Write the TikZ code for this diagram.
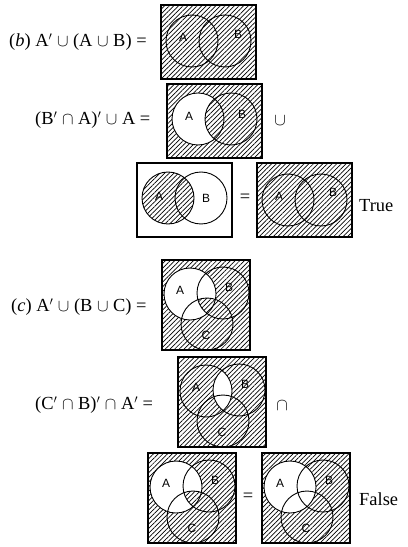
\documentclass[tikz,border=0pt]{standalone}
\usepackage{fontspec}
\setmainfont{Liberation Serif}
\setsansfont{Liberation Sans}
\usetikzlibrary{patterns.meta}

\begin{document}
\begin{tikzpicture}[x=1bp, y=-1bp,
		hatch/.style={pattern={Lines[angle=45,distance=3.3pt,line width=0.7pt]}},
		frame/.style={draw, line width=1.3pt},
		ring/.style={draw, line width=0.9pt},
		setlbl/.style={font=\sffamily\fontsize{12}{14}\selectfont},
		expr/.style={font=\fontsize{18.5}{22}\selectfont, anchor=west, inner sep=0pt},
		sign/.style={font=\fontsize{18.5}{22}\selectfont, inner sep=0pt}]

		% 0. Page size
		\useasboundingbox (0,0) rectangle (407,547);

		% 1. Part (b), first line: everything shaded
		\node[expr] (eqb) at (9,42) {(\textit{b}) A$'$ $\cup$ (A $\cup$ B) =};
		\begin{scope}[shift={(161,5)}]
			\coordinate (b1A) at (31,36);
			\coordinate (b1B) at (64,36);
			\fill[hatch] (0,0) rectangle (95,74);
			\draw[ring] (b1A) circle[radius=26] (b1B) circle[radius=26];
			\draw[frame] (0,0) rectangle (95,74);
			\node[setlbl] (b1a) at (22,32) {A};
			\node[setlbl] (b1b) at (77,29) {B};
		\end{scope}

		% 2. Part (b), second line: A - B left blank
		\node[expr] (eqbb) at (35,120) {(B$'$ $\cap$ A)$'$ $\cup$ A =};
		\begin{scope}[shift={(167,84)}]
			\coordinate (b2A) at (31,35);
			\coordinate (b2B) at (64,35);
			\fill[hatch] (0,0) rectangle (95,74);
			\fill[white] (b2A) circle[radius=26];
			\begin{scope}
				\clip (b2A) circle[radius=26];
				\fill[hatch] (b2B) circle[radius=26];
			\end{scope}
			\draw[ring] (b2A) circle[radius=26] (b2B) circle[radius=26];
			\draw[frame] (0,0) rectangle (95,74);
			\node[setlbl] (b2a) at (22,32) {A};
			\node[setlbl] (b2b) at (75,30) {B};
		\end{scope}
		\node[sign] (cupb) at (280,121) {$\cup$};

		% 3. Part (b), third line: A shaded = everything shaded
		\begin{scope}[shift={(137,163)}]
			\coordinate (b3A) at (31,35);
			\coordinate (b3B) at (64,35);
			\fill[hatch] (b3A) circle[radius=26];
			\draw[ring] (b3A) circle[radius=26] (b3B) circle[radius=26];
			\draw[frame] (0,0) rectangle (95,74);
			\node[setlbl] (b3a) at (22,33) {A};
			\node[setlbl] (b3b) at (69,35) {B};
		\end{scope}
		\node[sign] (eqsb) at (245,198) {=};
		\begin{scope}[shift={(257,163)}]
			\coordinate (b4A) at (31,37);
			\coordinate (b4B) at (64,37);
			\fill[hatch] (0,0) rectangle (95,74);
			\draw[ring] (b4A) circle[radius=26] (b4B) circle[radius=26];
			\draw[frame] (0,0) rectangle (95,74);
			\node[setlbl] (b4a) at (22,33) {A};
			\node[setlbl] (b4b) at (76,29) {B};
		\end{scope}
		\node[expr] (tru) at (359,206) {True};

		% 4. Part (c), first line: A, apart from the middle, left blank
		\node[expr] (eqc) at (11,307) {(\textit{c}) A$'$ $\cup$ (B $\cup$ C) =};
		\begin{scope}[shift={(162,260)}]
			\coordinate (c1A) at (28,34);
			\coordinate (c1B) at (61,33);
			\coordinate (c1C) at (45,64);
			\fill[hatch] (0,0) rectangle (88,90);
			\fill[white] (c1A) circle[radius=26];
			\begin{scope}
				\clip (c1A) circle[radius=26];
				\clip (c1B) circle[radius=26];
				\fill[hatch] (c1C) circle[radius=26];
			\end{scope}
			\draw[ring] (c1A) circle[radius=26] (c1B) circle[radius=26] (c1C) circle[radius=26];
			\draw[frame] (0,0) rectangle (88,90);
			\node[setlbl] (c1a) at (18,30) {A};
			\node[setlbl] (c1b) at (67,27) {B};
			\node[setlbl] (c1c) at (44,75) {C};
		\end{scope}

		% 5. Part (c), second line: A and B overlap left blank
		\node[expr] (eqcc) at (35,405) {(C$'$ $\cap$ B)$'$ $\cap$ A$'$ =};
		\begin{scope}[shift={(178,357)}]
			\coordinate (c2A) at (28,34);
			\coordinate (c2B) at (61,33);
			\coordinate (c2C) at (45,64);
			\fill[hatch] (0,0) rectangle (88,90);
			\begin{scope}
				\clip (c2A) circle[radius=26];
				\fill[white] (c2B) circle[radius=26];
			\end{scope}
			\draw[ring] (c2A) circle[radius=26] (c2B) circle[radius=26] (c2C) circle[radius=26];
			\draw[frame] (0,0) rectangle (88,90);
			\node[setlbl] (c2a) at (18,30) {A};
			\node[setlbl] (c2b) at (67,27) {B};
			\node[setlbl] (c2c) at (44,75) {C};
		\end{scope}
		\node[sign] (capc) at (282,406) {$\cap$};

		% 6. Part (c), third line
		\begin{scope}[shift={(148,453)}]
			\coordinate (c3A) at (28,34);
			\coordinate (c3B) at (61,33);
			\coordinate (c3C) at (45,64);
			\fill[hatch] (0,0) rectangle (88,90);
			\fill[white] (c3A) circle[radius=26];
			\begin{scope}
				\clip (c3A) circle[radius=26];
				\clip (c3B) circle[radius=26];
				\fill[hatch] (c3C) circle[radius=26];
			\end{scope}
			\draw[ring] (c3A) circle[radius=26] (c3B) circle[radius=26] (c3C) circle[radius=26];
			\draw[frame] (0,0) rectangle (88,90);
			\node[setlbl] (c3a) at (18,30) {A};
			\node[setlbl] (c3b) at (67,27) {B};
			\node[setlbl] (c3c) at (44,75) {C};
		\end{scope}
		\node[sign] (eqsc) at (248,497) {=};
		\begin{scope}[shift={(262,453)}]
			\coordinate (c4A) at (28,34);
			\coordinate (c4B) at (61,33);
			\coordinate (c4C) at (45,64);
			\fill[hatch] (0,0) rectangle (88,90);
			\fill[white] (c4A) circle[radius=26];
			\draw[ring] (c4A) circle[radius=26] (c4B) circle[radius=26] (c4C) circle[radius=26];
			\draw[frame] (0,0) rectangle (88,90);
			\node[setlbl] (c4a) at (18,30) {A};
			\node[setlbl] (c4b) at (67,27) {B};
			\node[setlbl] (c4c) at (44,75) {C};
		\end{scope}
		\node[expr] (fals) at (359,499) {False};
	\end{tikzpicture}
\end{document}
